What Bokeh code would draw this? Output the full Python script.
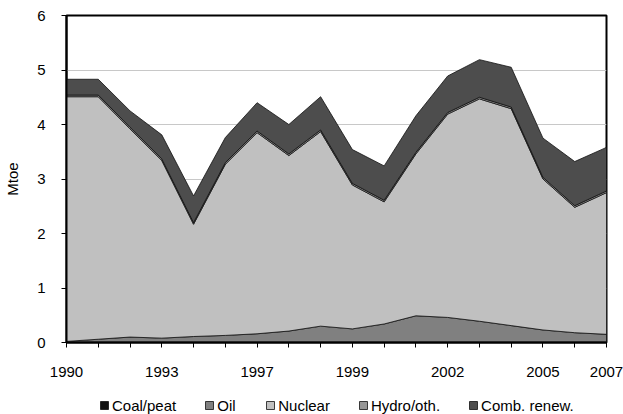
import numpy as np
from bokeh.plotting import figure
from bokeh.layouts import column
from bokeh.models import FixedTicker, Legend, LegendItem, Range1d
from bokeh.embed import file_html
from bokeh.resources import INLINE

years = list(range(1990, 2008))
coal = [0.01, 0.01, 0.01, 0.01, 0.01, 0.01, 0.01, 0.01, 0.01,
        0.01, 0.01, 0.01, 0.01, 0.01, 0.01, 0.01, 0.01, 0.01]
oil = [0.01, 0.05, 0.09, 0.07, 0.10, 0.12, 0.15, 0.20, 0.29,
       0.24, 0.33, 0.48, 0.45, 0.38, 0.30, 0.22, 0.17, 0.14]
nuclear = [4.49, 4.45, 3.82, 3.26, 2.06, 3.14, 3.69, 3.22, 3.57,
           2.64, 2.24, 2.97, 3.73, 4.08, 3.98, 2.77, 2.30, 2.60]
hydro = [0.03, 0.03, 0.03, 0.03, 0.03, 0.03, 0.03, 0.03, 0.03,
         0.03, 0.03, 0.03, 0.03, 0.03, 0.03, 0.03, 0.03, 0.03]
comb = [0.29, 0.29, 0.30, 0.44, 0.49, 0.46, 0.52, 0.54, 0.61,
        0.62, 0.63, 0.67, 0.67, 0.69, 0.73, 0.72, 0.81, 0.80]

series_names = ["Coal/peat", "Oil", "Nuclear", "Hydro/oth.", "Comb. renew."]
series_colors = ["#111111", "#808080", "#c0c0c0", "#969696", "#4d4d4d"]
series_values = [coal, oil, nuclear, hydro, comb]

x_tick_labels = {1990: "1990", 1993: "1993", 1996: "1997", 1999: "1999",
                 2002: "2002", 2005: "2005", 2007: "2007"}
y_ticks = [0, 1, 2, 3, 4, 5, 6]

FONT = "Liberation Sans"
EDGE = "#111111"

p = figure(width=623, height=390, output_backend="svg", toolbar_location=None,
           x_range=Range1d(1990, 2007), y_range=Range1d(0, 6),
           min_border_left=66, min_border_right=17, min_border_top=15,
           min_border_bottom=48)
p.background_fill_color = "white"
p.border_fill_color = "white"
p.outline_line_color = "black"
p.outline_line_width = 2

bottom = np.zeros(len(years))
for name, vals, col in zip(series_names, series_values, series_colors):
    top = bottom + np.array(vals)
    xs = years + years[::-1]
    ys = list(top) + list(bottom[::-1])
    p.patch(xs, ys, fill_color=col, line_color=EDGE, line_width=0.8)
    bottom = top

p.xgrid.grid_line_color = None
p.ygrid.grid_line_color = "#c8c8c8"
p.ygrid.grid_line_width = 1

p.xaxis.ticker = FixedTicker(ticks=years)
p.xaxis.major_label_overrides = {y: x_tick_labels.get(y, "") for y in years}
p.yaxis.ticker = FixedTicker(ticks=y_ticks)
for ax in (p.xaxis[0], p.yaxis[0]):
    ax.axis_line_color = "black"
    ax.axis_line_width = 2
    ax.major_tick_line_color = "black"
    ax.major_tick_in = 0
    ax.major_tick_out = 5
    ax.minor_tick_line_color = None
    ax.major_label_text_font = FONT
    ax.major_label_text_font_size = "15px"
    ax.major_label_text_color = "black"
p.xaxis.major_label_standoff = 19
p.yaxis.major_label_standoff = 16
p.yaxis.axis_label = "Mtoe"
p.yaxis.axis_label_text_font = FONT
p.yaxis.axis_label_text_font_size = "15px"
p.yaxis.axis_label_text_font_style = "normal"
p.yaxis.axis_label_text_color = "black"
p.yaxis.axis_label_standoff = 13

# Legend strip below the chart (swatch renderers hold no visible data);
# its frame is aligned with the chart frame by the column layout.
lg = figure(width=623, height=24, output_backend="svg", toolbar_location=None,
            x_range=Range1d(0, 1), y_range=Range1d(0, 1),
            x_axis_location=None, y_axis_location=None,
            min_border_left=0, min_border_right=0, min_border_top=0,
            min_border_bottom=0)
lg.grid.grid_line_color = None
lg.outline_line_color = None
lg.border_fill_color = "white"
nan = np.array([np.nan])
items = []
for name, col in zip(series_names, series_colors):
    r = lg.quad(left=nan, right=nan, top=nan, bottom=nan,
                fill_color=col, line_color=EDGE, line_width=0.8)
    items.append(LegendItem(label=name, renderers=[r]))
legend = Legend(items=items, orientation="horizontal", location=(33, 0),
                glyph_width=10, glyph_height=10, label_standoff=3, spacing=28,
                padding=2, margin=0, border_line_color=None,
                background_fill_alpha=0, label_text_font=FONT,
                label_text_font_size="15px", label_height=18,
                label_text_color="black")
lg.add_layout(legend, "center")

layout = column(p, lg, spacing=0)
open("out.html", "w").write(file_html(layout, INLINE))
